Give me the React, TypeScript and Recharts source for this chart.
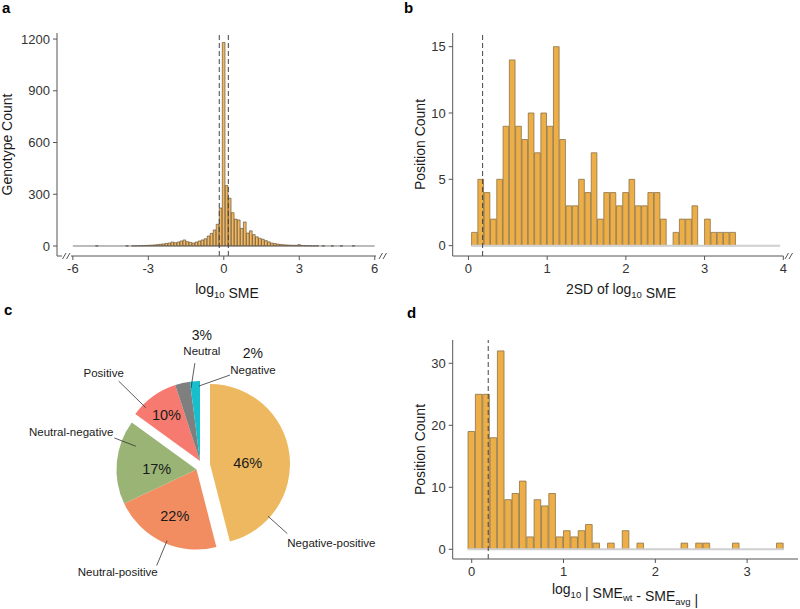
import React from "react";
import {
  BarChart,
  Bar,
  XAxis,
  YAxis,
  ReferenceLine,
  PieChart,
  Pie,
  Cell,
  Sector,
} from "recharts";

// ---- panel a: log10 SME per genotype (bins 0.12 wide, centred on 0)
const smeBinWidth = 0.12;
const smeFirstBin = -6;
const smeCounts = [
  0, 0, 0, 0, 0, 0, 0, 0, 1, 0, 0, 0, 0, 0, 0, 0, 0, 0, 1, 0, // -6.00 .. -3.72
  1, 1, 2, 2, 3, 4, 5, 6, 8, 10, 12, 15, // -3.60 .. -2.28
  17, 23, 19, 23, 29, 35, 25, 21, // -2.16 .. -1.32
  17, 23, 29, 35, 42, 58, 73, 93, 126, 220, // -1.20 .. -0.12
  1180, // 0
  350, 277, 193, 156, 151, 102, 139, 75, 88, 66, // 0.12 .. 1.20
  53, 45, 39, 31, 24, 17, 14, 11, 9, 7, // 1.32 .. 2.40
  6, 5, 4, 4, 8, 3, 2, 2, 1, 1, // 2.52 .. 3.60
  1, 0, 1, 0, 0, 1, 0, 0, 1, 0, 0, 0, 1, 0, 0, 0, 0, 0, 0, 0, // 3.72 .. 6.00
];
const smeRange: [number, number] = [-6, 6];
const smeCutoffs = [-0.18, 0.18];
const smeTicksX = [-6, -3, 0, 3, 6];
const smeTicksY = [0, 300, 600, 900, 1200];

// ---- panel b: 2SD of log10 SME per position (bins 0.08 wide)
const sdBinWidth = 0.08;
const sdFirstBin = 0.08;
const sdCounts = [
  1, 5, 4, 2, 5, 9, 14, 9, 8, 10, 7, 10, 9, 15, 8, 3, 3, 5, 4, 7, 2,
  4, 4, 3, 4, 5, 3, 3, 4, 4, 2, 0, 1, 2, 2, 3, 0, 2, 1, 1, 1, 1,
];
const sdRange: [number, number] = [0.04, 3.96];
const sdCutoffs = [0.18];
const sdTicksX = [0, 1, 2, 3, 4];
const sdTicksY = [0, 5, 10, 15];

// ---- panel d: log10 |SMEwt - SMEavg| per position (bins 0.08 wide)
const diffBinWidth = 0.08;
const diffFirstBin = 0;
const diffCounts = [
  19, 25, 25, 18, 32, 8, 9, 11, 2, 8, 7, 9, 2, 3, 2, 3, 4, 1, 0, 1, 0, 3,
  0, 1, 0, 0, 0, 0, 0, 1, 0, 1, 1, 0, 0, 0, 1, 0, 0, 0, 0, 0, 1,
];
const diffRange: [number, number] = [-0.04, 3.4];
const diffCutoffs = [0.18];
const diffTicksX = [0, 1, 2, 3];
const diffTicksY = [0, 10, 20, 30];

// ---- panel c: classes of positions
const classNames = [
  "Negative-positive",
  "Neutral-positive",
  "Neutral-negative",
  "Positive",
  "Neutral",
  "Negative",
];
const classShares = [46, 22, 17, 10, 3, 2];
const classColors = ["#EDB860", "#F28D62", "#99B475", "#F77A70", "#7F7F7F", "#17BFCC"];

// slice offsets (px) for the exploded wedges
const pieExplode: Record<string, [number, number]> = {
  "Negative-positive": [10, 3],
  "Neutral-positive": [-3.5, 8.5],
  "Neutral-negative": [-3.5, 8.5],
};

type Callout = {
  from: [number, number]; // [angle, radius]
  to: [number, number];
  text: [number, number]; // offset of name from line end
  anchor: "start" | "middle" | "end";
  inner?: [number, number]; // [radius, dy] of percentage inside the wedge
};
const pieCallouts: Record<string, Callout> = {
  "Negative-positive": { from: [-42, 78], to: [-42, 104], text: [0, 9], anchor: "start", inner: [38, 4] },
  "Neutral-positive": { from: [-112.5, 77], to: [-112.5, 104], text: [1, 6], anchor: "end", inner: [51, 0] },
  "Neutral-negative": { from: [159, 65], to: [159, 88], text: [-1, -6], anchor: "end", inner: [40, 3] },
  Positive: { from: [135.5, 76], to: [135.5, 114], text: [-15, -8], anchor: "middle", inner: [57, 0] },
  Neutral: { from: [97, 73.6], to: [93, 98], text: [7, -12], anchor: "middle" },
  Negative: { from: [90.8, 75], to: [70.8, 91], text: [23, -5], anchor: "middle" },
};

const FONT = '"Liberation Sans", Arial, Helvetica, sans-serif';
const AXIS = "#555";
const RAD = Math.PI / 180;
const polar = (cx: number, cy: number, r: number, deg: number) => [
  cx + r * Math.cos(-deg * RAD),
  cy + r * Math.sin(-deg * RAD),
];

type Margin = { top: number; right: number; bottom: number; left: number };
type HistProps = {
  counts: number[];
  firstBin: number;
  binWidth: number;
  width: number;
  height: number;
  margin: Margin;
  yAxisWidth: number;
  xDomain: [number, number];
  yDomain: [number, number];
  xTicks: number[];
  yTicks: number[];
  fill: string;
  stroke: string;
  strokeWidth: number;
  baseline: [number, number];
  baselineStroke: string;
  baselineWidth: number;
  cutoffs: number[];
};

function Histogram(p: HistProps) {
  const data = p.counts.map((count, i) => ({
    bin: +(p.firstBin + i * p.binWidth).toFixed(3),
    count,
  }));
  const plotW = p.width - p.margin.left - p.margin.right - p.yAxisWidth;
  const barPx = (p.binWidth * plotW) / (p.xDomain[1] - p.xDomain[0]);
  const tick = { fontSize: 13, fill: "#333" };
  return (
    <BarChart
      width={p.width}
      height={p.height}
      data={data}
      margin={p.margin}
      barCategoryGap={0}
      barGap={0}
    >
      <XAxis
        dataKey="bin"
        type="number"
        domain={p.xDomain}
        ticks={p.xTicks}
        allowDataOverflow
        interval={0}
        height={44}
        tickSize={4}
        tickMargin={4}
        stroke={AXIS}
        tick={tick}
      />
      <YAxis
        type="number"
        domain={p.yDomain}
        ticks={p.yTicks}
        allowDataOverflow
        interval={0}
        width={p.yAxisWidth}
        tickSize={4}
        tickMargin={3}
        stroke={AXIS}
        tick={tick}
      />
      <ReferenceLine
        segment={[
          { x: p.baseline[0], y: 0 },
          { x: p.baseline[1], y: 0 },
        ]}
        stroke={p.baselineStroke}
        strokeWidth={p.baselineWidth}
      />
      <Bar
        dataKey="count"
        barSize={barPx}
        fill={p.fill}
        stroke={p.stroke}
        strokeWidth={p.strokeWidth}
        isAnimationActive={false}
      />
      {p.cutoffs.map((c) => (
        <ReferenceLine key={c} x={c} stroke="#444" strokeDasharray="5 3" />
      ))}
    </BarChart>
  );
}

const renderSlice = (props: any) => {
  const name = props.name ?? props.payload?.name;
  const [ox, oy] = pieExplode[name] ?? [0, 0];
  return <Sector {...props} cx={props.cx + ox} cy={props.cy + oy} />;
};

const renderPieLabel = (props: any) => {
  const name = props.name ?? props.payload?.name;
  const c = pieCallouts[name];
  if (!c) return null;
  const [ox, oy] = pieExplode[name] ?? [0, 0];
  const cx = props.cx + ox;
  const cy = props.cy + oy;
  const pct = `${Math.round(props.percent * 100)}%`;
  const [x1, y1] = polar(cx, cy, c.from[1], c.from[0]);
  const [x2, y2] = polar(cx, cy, c.to[1], c.to[0]);
  const tx = x2 + c.text[0];
  const ty = y2 + c.text[1];
  let pctEl;
  if (c.inner) {
    const [px, py] = polar(cx, cy, c.inner[0], props.midAngle);
    pctEl = (
      <text x={px} y={py + c.inner[1]} dy="0.35em" textAnchor="middle" fontSize={14.5} fill="#1a1a1a">
        {pct}
      </text>
    );
  } else {
    pctEl = (
      <text x={tx} y={ty - 16.5} dy="0.35em" textAnchor="middle" fontSize={14} fill="#1a1a1a">
        {pct}
      </text>
    );
  }
  return (
    <g key={name}>
      <line x1={x1} y1={y1} x2={x2} y2={y2} stroke="#333" strokeWidth={0.8} />
      <text x={tx} y={ty} dy="0.35em" textAnchor={c.anchor} fontSize={11.5} fill="#1a1a1a">
        {name}
      </text>
      {pctEl}
    </g>
  );
};

const pieData = classNames.map((name, i) => ({ name, value: classShares[i] }));

function Sub({ children }: { children: string }) {
  return (
    <>
      <tspan fontSize={9.5} dy={3.5}>
        {children}
      </tspan>
      <tspan dy={-3.5}>{""}</tspan>
    </>
  );
}

function Breaks({ x, y }: { x: number; y: number }) {
  return (
    <g stroke={AXIS} strokeWidth={1}>
      <line x1={x} y1={y + 3} x2={x + 3.5} y2={y - 3} />
      <line x1={x + 4} y1={y + 3} x2={x + 7.5} y2={y - 3} />
    </g>
  );
}

export default function App() {
  return (
    <div
      style={{
        position: "absolute",
        left: 0,
        top: 0,
        width: 800,
        height: 609,
        background: "#fff",
        fontFamily: FONT,
        overflow: "hidden",
      }}
    >
      <div style={{ position: "absolute", left: 0, top: 0 }}>
        <Histogram
          counts={smeCounts}
          firstBin={smeFirstBin}
          binWidth={smeBinWidth}
          width={400}
          height={300}
          margin={{ top: 33, right: 24, bottom: 0, left: 7 }}
          yAxisWidth={50}
          xDomain={[-6.63, 6.05]}
          yDomain={[-58, 1235]}
          xTicks={smeTicksX}
          yTicks={smeTicksY}
          fill="#F3B85E"
          stroke="#4f4232"
          strokeWidth={0.6}
          baseline={smeRange}
          baselineStroke="#555"
          baselineWidth={0.8}
          cutoffs={smeCutoffs}
        />
      </div>
      <div style={{ position: "absolute", left: 400, top: 0 }}>
        <Histogram
          counts={sdCounts}
          firstBin={sdFirstBin}
          binWidth={sdBinWidth}
          width={400}
          height={300}
          margin={{ top: 33, right: 16.7, bottom: 0, left: 2.7 }}
          yAxisWidth={50}
          xDomain={[-0.2, 4.0]}
          yDomain={[-0.78, 16.03]}
          xTicks={sdTicksX}
          yTicks={sdTicksY}
          fill="#EDAE48"
          stroke="#8a7448"
          strokeWidth={0.8}
          baseline={sdRange}
          baselineStroke="#cfcfcf"
          baselineWidth={2}
          cutoffs={sdCutoffs}
        />
      </div>
      <div style={{ position: "absolute", left: 0, top: 300 }}>
        <PieChart width={400} height={309} margin={{ top: 0, right: 0, bottom: 0, left: 0 }}>
          <Pie
            data={pieData}
            dataKey="value"
            nameKey="name"
            cx={200}
            cy={161}
            innerRadius={0}
            outerRadius={80}
            startAngle={90}
            endAngle={-270}
            stroke="none"
            isAnimationActive={false}
            labelLine={false}
            label={renderPieLabel}
            shape={renderSlice}
            inactiveShape={renderSlice}
            activeShape={renderSlice}
          >
            {pieData.map((d, i) => (
              <Cell key={d.name} fill={classColors[i]} />
            ))}
          </Pie>
        </PieChart>
      </div>
      <div style={{ position: "absolute", left: 400, top: 300 }}>
        <Histogram
          counts={diffCounts}
          firstBin={diffFirstBin}
          binWidth={diffBinWidth}
          width={400}
          height={309}
          margin={{ top: 40, right: 2, bottom: 6, left: 2.7 }}
          yAxisWidth={50}
          xDomain={[-0.207, 3.554]}
          yDomain={[-1.565, 33.76]}
          xTicks={diffTicksX}
          yTicks={diffTicksY}
          fill="#EDAE48"
          stroke="#8a7448"
          strokeWidth={0.8}
          baseline={diffRange}
          baselineStroke="#cfcfcf"
          baselineWidth={2}
          cutoffs={diffCutoffs}
        />
      </div>

      <svg
        width={800}
        height={609}
        style={{ position: "absolute", left: 0, top: 0, pointerEvents: "none", whiteSpace: "pre" }}
        fontFamily={FONT}
      >
        {/* panel letters */}
        <g fontWeight="bold" fontSize={15} fill="#000">
          <text x={2} y={13}>a</text>
          <text x={404} y={13}>b</text>
          <text x={4} y={315}>c</text>
          <text x={407} y={318}>d</text>
        </g>

        {/* axis breaks */}
        <rect x={62} y={253} width={9} height={6} fill="#fff" />
        <Breaks x={62.5} y={256} />
        <Breaks x={379} y={256} />
        <Breaks x={785} y={256} />

        {/* axis titles */}
        <g fontSize={14} fill="#1a1a1a">
          <text x={227} y={294} textAnchor="middle">
            log<Sub>10</Sub> SME
          </text>
          <text x={621} y={294} textAnchor="middle">
            2SD of log<Sub>10</Sub> SME
          </text>
          <text x={625} y={594} textAnchor="middle">
            log<Sub>10</Sub> | SME<Sub>wt</Sub> - SME<Sub>avg</Sub> |
          </text>
          <text transform="translate(12,144.5) rotate(-90)" textAnchor="middle">
            Genotype Count
          </text>
          <text transform="translate(425,144.5) rotate(-90)" textAnchor="middle">
            Position Count
          </text>
          <text transform="translate(425,449.5) rotate(-90)" textAnchor="middle">
            Position Count
          </text>
        </g>
      </svg>
    </div>
  );
}
